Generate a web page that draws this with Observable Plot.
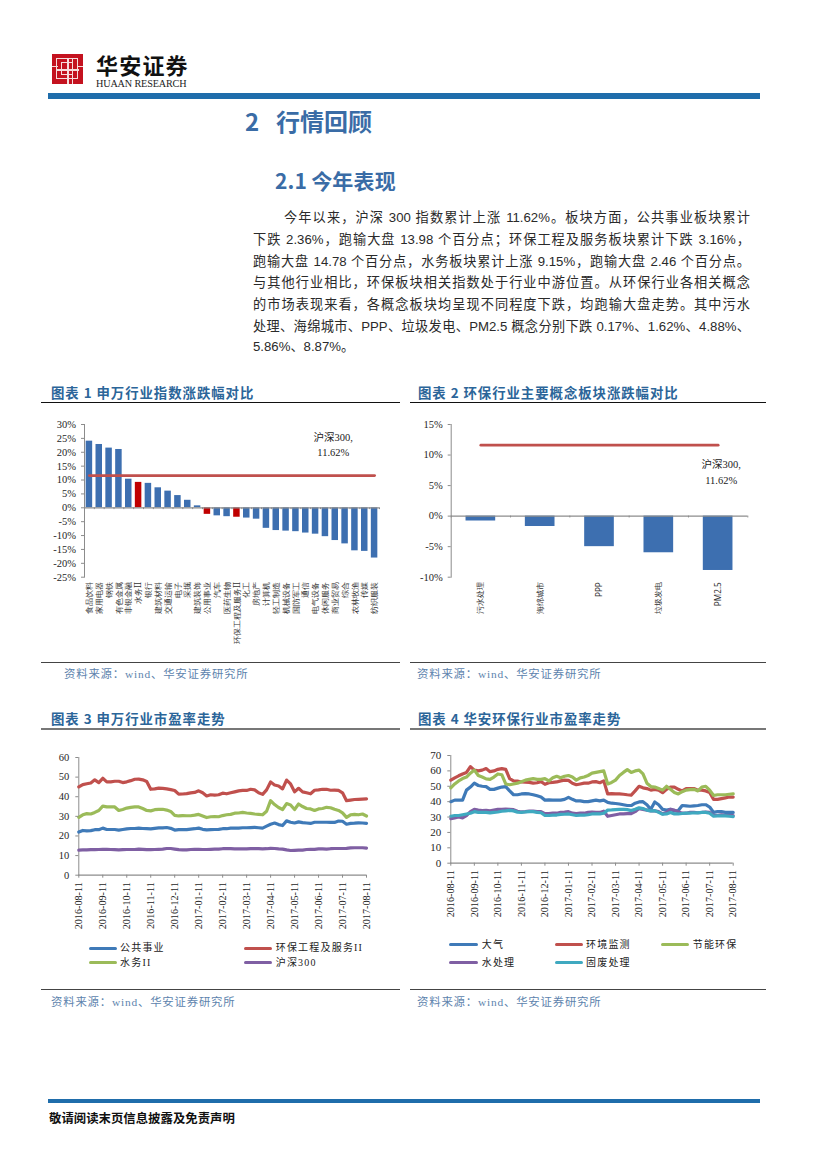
<!DOCTYPE html>
<html lang="zh">
<head>
<meta charset="utf-8">
<script src="https://cdn.jsdelivr.net/npm/d3@7"></script>
<script src="https://cdn.jsdelivr.net/npm/@observablehq/plot@0.6"></script>
<style>
html,body{margin:0;padding:0;background:#fff;}
#page{position:relative;width:827px;height:1169px;overflow:hidden;font-family:"Noto Sans CJK SC","Noto Sans",sans-serif;}
.abs{position:absolute;white-space:nowrap;}
.body-line{position:absolute;left:253px;width:497px;height:20px;line-height:20px;font-size:13.2px;color:#2a2a2a;text-align:justify;text-align-last:justify;white-space:normal;font-family:"Liberation Sans","Noto Sans CJK SC",sans-serif;}
.chart-title{position:absolute;font-size:13.4px;font-weight:700;color:#2b6599;letter-spacing:.95px;line-height:18px;white-space:nowrap;}
.source{position:absolute;font-family:"Liberation Serif","Noto Sans CJK SC",serif;font-size:11.4px;color:#5d83ad;letter-spacing:.8px;line-height:16px;white-space:nowrap;}
.rule{position:absolute;}
.lg{position:absolute;font-family:"Liberation Serif","Noto Sans CJK SC",serif;font-size:10px;letter-spacing:1.2px;color:#222;line-height:14px;white-space:nowrap;}
.sw{position:absolute;height:3.6px;border-radius:1.8px;}
.chart{position:absolute;}
.chart svg{display:block;overflow:visible;background:transparent;}
</style>
</head>
<body>
<div id="page"></div>
<script>
// ---------- Chart 1 ----------
const industries = ["食品饮料","家用电器","钢铁","有色金属","非银金融","水务II","银行","建筑材料","交通运输","电子","采掘","建筑装饰","公用事业","汽车","医药生物","环保工程及服务II","化工","房地产","计算机","轻工制造","机械设备","国防军工","通信","电气设备","休闲服务","商业贸易","综合","农林牧渔","传媒","纺织服装"];
const industryReturns = [24,22.8,21.5,21,10.3,9.15,8.8,7.2,6,4.4,2.7,0.7,-2.36,-2.9,-3.2,-3.4,-3.7,-4.1,-7.4,-8.2,-8.4,-8.6,-9.1,-9.5,-10.4,-11.8,-13,-15.5,-15.7,-18.1];
const highlighted = ["水务II","公用事业","环保工程及服务II"];
const hs300Return = 11.62;
const ticks1 = [-25,-20,-15,-10,-5,0,5,10,15,20,25,30];

// ---------- Chart 2 ----------
const concepts = ["污水处理","海绵城市","PPP","垃圾发电","PM2.5"];
const conceptReturns = [-0.8,-1.7,-5,-6,-8.9];
const ticks2 = [-10,-5,0,5,10,15];

// ---------- Charts 3 and 4: six readings per month, category date axis ----------
const monthTicks = ["2016-08-11","2016-09-11","2016-10-11","2016-11-11","2016-12-11","2017-01-11","2017-02-11","2017-03-11","2017-04-11","2017-05-11","2017-06-11","2017-07-11","2017-08-11"];

const peUtilities = [22,22.8,22.6,22.7,23.2,23.2,24, 23.3,23.3,23.3,23,23.3,23.6, 23.8,23.8,24,23.8,23.7,23.6, 23.9,24.1,24.1,24.3,23.9,23, 23.2,23.2,23.2,23.5,23.7,24, 23.4,23.1,23.2,23.3,23.4,23.7, 23.7,24,24,24,24.2,24.2, 24.3,24.4,24.2,24,25,26, 26.6,25.8,25.3,27.7,27,26.6, 27.2,26.8,26.6,26.4,27,27, 27,27,26.9,26.9,27.6,27.5, 26,26.4,26.5,26.7,26.6,26.4];
const peEnvService = [45,46.2,46.6,47,48.6,47.2,49.4, 47.6,47.6,47.9,47.9,47.2,47.6, 48.2,48.9,49,48.6,47.8,43.8, 44,44.4,44.3,44,43.6,43.2, 41.3,41.4,41.6,42,42.2,43, 42,40.4,41,40.8,41,41.8, 41.5,42,42.5,43,43.2,43.2, 43.8,43.5,42,41.2,43.5,47.5, 46,45.5,44,48.5,46.5,42.5, 44.3,42.5,42,41.5,43.3,43.5, 43.8,43.8,43.3,43.4,43.2,42, 38,38.3,38.6,38.7,38.8,38.9];
const peWater = [29.5,30.8,31.4,31.2,32,33,35.2, 34.8,34.8,34.8,33,33.5,34.2, 34.6,34.8,34.8,34,33,32.8, 33.4,33.6,33.6,33.2,32.5,30.5, 30.2,30.4,30.3,30.3,30.6,31, 30.2,29.4,29.8,29.9,29.8,30.4, 30.8,31,31.6,31.7,32,31.7, 31.5,31.2,31,30.8,32.6,38, 36,34.5,33.5,36.5,35.8,33.5, 36.3,35,34,33.8,33,33.8, 34,34.6,34.4,33.6,33,31.8, 29.5,30.8,31,30.8,31.2,30.2];
const peHs300 = [12.8,12.9,12.9,13,13,13.1,13.2, 13.2,13.1,13,12.9,13,13.1, 13.1,13.1,13.3,13.2,13,13, 13.1,13.2,13.3,13.6,13.6,13.3, 13,12.9,12.9,13.1,13.2,13.2, 13.1,13.1,13.2,13.3,13.3,13.5, 13.5,13.5,13.4,13.4,13.4,13.4, 13.5,13.5,13.5,13.4,13.5,13.7, 13.6,13.4,13.3,12.9,12.6,12.7, 12.8,12.8,13.1,13.2,13.2,13.4, 13.4,13.3,13.5,13.6,13.6,13.6, 13.7,13.9,14,14,14,13.8];

const peAir = [40,41,41,41,47.5,49.5,52, 50.5,50,49.8,48,48,48.8, 49.5,49.8,47,44.5,44.5,45, 45.2,45,44.5,43.8,43,41, 41.2,41,41,41,41.5,42.8, 41.5,40.5,40.5,40,40,40.5, 41,40.5,41,39.5,39,38.8, 38.5,38,37.5,37.5,39,39.8, 40,38,35,39.8,38,35, 34.5,35,34,34.2,37.5,37.3, 37,37.3,37.5,38,38,36.5, 33,33.5,33.5,33,33,33];
const peMonitor = [54,55.5,56.8,58,59,62.8,60.5, 60,60.5,61.5,59.5,60,61, 61.5,61,55,53.5,53.3,52.8, 52.7,52.5,52,52.3,53,51.3, 52.3,52.5,52.8,53.5,54,53.8, 52,51,51.5,52,52,52.8, 53,52.3,53.5,45,45.2,45, 45,44.8,44.5,44.3,47,50, 49,48.5,47.5,48,47.5,45.8, 48,49.5,49.5,48,47,48.5, 48.5,48.5,47.5,47.5,47,46, 41.5,41.5,42,42.5,43,43];
const peEnergy = [49,51.5,53.5,55,56,58.5,60.5, 57,56,54.8,54.5,56,58, 57.5,51.5,51,51.5,52,53, 54,54.5,55,54.5,54.5,55, 53.5,55.5,56.5,55.5,56.5,57, 56,54,55.5,56,57,58.5, 59,59.5,60,51.5,52.5,54, 57,59,60.8,59,60,60.5, 58,52,49.8,49.5,48.5,47.5, 50,48,46,45,46.5,47.5, 47.8,48,47,49.5,50,47.5, 44,44.5,44.5,44.5,44.8,45];
const peWaterTreat = [29,29.5,30,29.5,31,33.5,35, 34.5,34.2,34.3,34,34.5,35, 35,35.2,35,34.8,33.8,33.3, 33.5,33.8,33.8,33.5,33.5,32.2, 32.2,32.5,32.5,33,33.2,33.5, 32.5,32.3,32.5,32.5,33,33.3, 33,33,33.8,30.5,31,31.5, 32,32,32.2,32.2,33.5,35.5, 35,34.5,34,34,33.5,32, 33,35,34.5,33.5,32.5,32.5, 33,33,32.8,33,33.3,33, 31,31,31.5,31,31,31];
const peWaste = [30.5,31,31,31.5,32,32.5,33.5, 33,33,33,32.7,33,33.3, 33.8,34,34.3,34,33.2,33, 33.3,33.5,33.5,33,32.8,31, 31,31.2,31.3,31.7,31.8,32, 31.5,31,31.2,31.2,31.5,32, 32,32,32.5,34.5,34.6,34.8, 35,35,34.8,34.2,35,36, 35.5,34.5,34,34.2,33,31.8, 32,33,32,32,32.3,32.5, 32.5,32.8,32.7,33,33,32.5, 30.5,30.7,30.8,30.7,30.5,30.3];

const ticks3 = [0,10,20,30,40,50,60];
const ticks4 = [0,10,20,30,40,50,60,70];

// Category axis: the months of the ticks, each split into six sampling dates
const fmt = d3.utcFormat("%Y-%m-%d");
const readingDates = [];
monthTicks.forEach((m, i) => {
  if (i === monthTicks.length - 1) { readingDates.push(m); return; }
  const a = new Date(m + "T00:00Z"), b = new Date(monthTicks[i + 1] + "T00:00Z");
  d3.range(6).forEach(j => readingDates.push(fmt(new Date(+a + (b - a) * j / 6))));
});

const series3 = [
  {name:"公共事业", color:"#3f7ab8", values:peUtilities},
  {name:"环保工程及服务II", color:"#c0504d", values:peEnvService},
  {name:"水务II", color:"#9bbb59", values:peWater},
  {name:"沪深300", color:"#7f5fa3", values:peHs300}
];
const series4 = [
  {name:"大气", color:"#3f7ab8", values:peAir},
  {name:"环境监测", color:"#c0504d", values:peMonitor},
  {name:"节能环保", color:"#9bbb59", values:peEnergy},
  {name:"水处理", color:"#7f5fa3", values:peWaterTreat},
  {name:"固废处理", color:"#3fa9c0", values:peWaste}
];

const AXIS = "#8c8c8c", TICKTEXT = "#262626";
const SERIF = '"Liberation Serif","Noto Sans CJK SC",serif';
const page = document.getElementById("page");

function el(cls, style, text) {
  const d = document.createElement("div");
  d.className = cls;
  Object.assign(d.style, style);
  if (text != null) d.textContent = text;
  page.appendChild(d);
  return d;
}
function place(svg, left, top) {
  const w = el("chart", {left: left + "px", top: top + "px"});
  w.appendChild(svg);
}

// ---------- Page furniture ----------
el("abs", {left:"52px",top:"54px",width:"31px",height:"30px",background:"#c4121f"});
[[56,58,23,22],[61,62,13,14]].forEach(([x,y,w,h]) => el("abs",{left:x+"px",top:y+"px",width:w-3+"px",height:h-3+"px",border:"1.5px solid #f6dcdc"}));
[[67,58,1.5,26],[56,69,23,1.5],[52,66,6,1.2],[77,66,6,1.2],[72,58,1.2,26]].forEach(([x,y,w,h]) => el("abs",{left:x+"px",top:y+"px",width:w+"px",height:h+"px",background:"#f6dcdc"}));
el("abs",{left:"96px",top:"49px",fontSize:"22px",lineHeight:"30px",letterSpacing:"1.2px",color:"#111",fontWeight:"700"},"华安证券");
el("abs",{left:"96px",top:"78px",fontSize:"10.2px",lineHeight:"12px",letterSpacing:"-.15px",color:"#222",fontFamily:SERIF},"HUAAN RESEARCH");
el("rule",{left:"48px",top:"93px",width:"712px",height:"6.4px",background:"#1f6dab"});

el("abs",{left:"245px",top:"103px",fontSize:"24px",lineHeight:"36px",fontWeight:"700",color:"#3a6ca6",letterSpacing:"0"},"2");
el("abs",{left:"276px",top:"103px",fontSize:"24px",lineHeight:"36px",fontWeight:"700",color:"#3a6ca6"},"行情回顾");
el("abs",{left:"275px",top:"165px",fontSize:"21px",lineHeight:"30px",fontWeight:"700",color:"#3a6ca6",letterSpacing:".2px",wordSpacing:"-1px"},"2.1 今年表现");

const bodyLines = [
  ["今年以来，沪深 300 指数累计上涨 11.62%。板块方面，公共事业板块累计",284,218.3],
  ["下跌 2.36%，跑输大盘 13.98 个百分点；环保工程及服务板块累计下跌 3.16%，",253,240],
  ["跑输大盘 14.78 个百分点，水务板块累计上涨 9.15%，跑输大盘 2.46 个百分点。",253,261.7],
  ["与其他行业相比，环保板块相关指数处于行业中游位置。从环保行业各相关概念",253,283.3],
  ["的市场表现来看，各概念板块均呈现不同程度下跌，均跑输大盘走势。其中污水",253,305],
  ["处理、海绵城市、PPP、垃圾发电、PM2.5 概念分别下跌 0.17%、1.62%、4.88%、",253,326.7]
];
bodyLines.forEach(([t,x,y]) => el("body-line",{left:x+"px",width:750-x+"px",top:y-10+"px"},t));
el("body-line",{top:"337px",width:"110px",textAlignLast:"left"},"5.86%、8.87%。");

el("chart-title",{left:"51px",top:"383px"},"图表 1 申万行业指数涨跌幅对比");
el("chart-title",{left:"418px",top:"383px"},"图表 2 环保行业主要概念板块涨跌幅对比");
el("chart-title",{left:"51px",top:"709px"},"图表 3 申万行业市盈率走势");
el("chart-title",{left:"418px",top:"709px"},"图表 4 华安环保行业市盈率走势");
[[41,402,359,1.3,"#111"],[410,402,356,1.3,"#111"],[41,662.3,359,1.2,"#444"],[410,662.3,356,1.2,"#444"],
 [41,728,359,1.8,"#777"],[410,728,356,1.8,"#777"],[41,989,359,1.2,"#444"],[410,989,356,1.2,"#444"]]
 .forEach(([x,y,w,h,c]) => el("rule",{left:x+"px",top:y+"px",width:w+"px",height:h+"px",background:c}));
const SRC = "资料来源：wind、华安证券研究所";
el("source",{left:"64px",top:"666px"},SRC);
el("source",{left:"417px",top:"666px"},SRC);
el("source",{left:"51px",top:"993.5px"},SRC);
el("source",{left:"417px",top:"993.5px"},SRC);

el("rule",{left:"48px",top:"1098.7px",width:"712px",height:"4px",background:"#1f6dab"});
el("abs",{left:"49px",top:"1109px",fontSize:"12.4px",lineHeight:"18px",fontWeight:"700",color:"#111"},"敬请阅读末页信息披露及免责声明");

// ---------- Charts ----------
function barChart({cats, vals, reds, domain, ticks, width, height, mL, mR, mT, mB, paddingInner, note, noteCat, labelSize, dxNote}) {
  const rows = cats.map((c,i)=>({c, v:vals[i], red:reds.includes(c)}));
  const step = (width - mL - mR) / cats.length;
  return Plot.plot({
    width, height, marginLeft:mL, marginRight:mR, marginTop:mT, marginBottom:mB,
    style:{background:"transparent"},
    x:{type:"band", domain:cats, paddingInner, paddingOuter:paddingInner/2, round:false, axis:null},
    y:{domain, axis:null},
    marks:[
      Plot.barY(rows,{x:"c",y:"v",fill:d=>d.red?"#c00000":"#3d6fb0"}),
      Plot.frame({anchor:"left",stroke:AXIS}),
      Plot.ruleY([0],{stroke:AXIS,strokeWidth:1.2}),
      Plot.ruleX(cats,{x:d=>d,dx:step/2,y1:0,y2:(domain[0]-domain[1])*0.012,stroke:AXIS}),
      Plot.ruleX(cats.slice(0,1),{x:d=>d,dx:-step/2,y1:0,y2:(domain[0]-domain[1])*0.012,stroke:AXIS}),
      Plot.line(cats,{x:d=>d,y:()=>hs300Return,stroke:"#c0504d",strokeWidth:2.8}),
      Plot.axisY(ticks,{anchor:"left",tickSize:3,tickPadding:5.5,tickFormat:d=>d+"%",fontSize:10.5,fontFamily:SERIF,stroke:AXIS,fill:TICKTEXT,color:TICKTEXT,label:null}),
      Plot.axisX(cats,{anchor:"bottom",tickSize:0,tickPadding:5,tickRotate:-90,fontSize:labelSize,fill:"#333",label:null}),
      Plot.text(note,{x:()=>noteCat,y:"y",text:"t",dx:dxNote,fontFamily:SERIF,fontSize:10.5,fill:"#222"})
    ]
  });
}
place(barChart({cats:industries,vals:industryReturns,reds:highlighted,domain:[-25,30],ticks:ticks1,
  width:345,height:250,mL:44,mR:6,mT:9,mB:88.3,paddingInner:.34,labelSize:8.2,
  note:[{y:25.3,t:"沪深300,"},{y:19.8,t:"11.62%"}],noteCat:"商业贸易",dxNote:-2}),40,415);
place(barChart({cats:concepts,vals:conceptReturns,reds:[],domain:[-10,15],ticks:ticks2,
  width:345,height:250,mL:45.7,mR:2.7,mT:9,mB:88.3,paddingInner:.5,labelSize:8.2,
  note:[{y:8.35,t:"沪深300,"},{y:5.85,t:"11.62%"}],noteCat:"PM2.5",dxNote:3}),405,415);

function peChart({series, ticks, domain, left, top, width, height, mL, mR, mT, mB, ySize}) {
  const rows = series.flatMap(s => s.values.map((v,i)=>({name:s.name,color:s.color,date:readingDates[i],v})));
  const svg = Plot.plot({
    width, height, marginLeft:mL, marginRight:mR, marginTop:mT, marginBottom:mB,
    style:{background:"transparent"},
    x:{type:"point", domain:readingDates, padding:0, round:false, axis:null},
    y:{domain, axis:null},
    marks:[
      Plot.frame({anchor:"left",stroke:AXIS}),
      Plot.ruleY([0],{stroke:AXIS,strokeWidth:1.2}),
      ...series.map(s => Plot.line(rows.filter(r=>r.name===s.name),{x:"date",y:"v",stroke:s.color,strokeWidth:3.2,strokeLinejoin:"round"})),
      Plot.axisY(ticks,{anchor:"left",tickSize:3,tickPadding:6.5,fontSize:ySize,fontFamily:SERIF,stroke:AXIS,fill:TICKTEXT,color:TICKTEXT,label:null}),
      Plot.axisX(monthTicks,{anchor:"bottom",tickSize:3,tickPadding:4,tickRotate:-90,fontSize:10.2,fontFamily:SERIF,stroke:AXIS,fill:TICKTEXT,color:TICKTEXT,label:null})
    ]
  });
  place(svg,left,top);
}
peChart({series:series3,ticks:ticks3,domain:[0,60],left:40,top:745,width:335,height:200,mL:38.3,mR:9,mT:12,mB:70.3,ySize:10.5});
peChart({series:series4,ticks:ticks4,domain:[0,70],left:405,top:745,width:335,height:200,mL:45.3,mR:7.3,mT:10,mB:82.3,ySize:11});

function legend(items){
  items.forEach(({name,color,sx,tx,y}) => {
    el("sw",{left:sx+"px",top:y-1.8+"px",width:"28.4px",background:color});
    el("lg",{left:tx+"px",top:y-7+"px"},name);
  });
}
legend([
  {...series3[0],sx:89,tx:120,y:948.3},{...series3[1],sx:244,tx:275.7,y:948.3},
  {...series3[2],sx:89,tx:120,y:962.7},{...series3[3],sx:244,tx:275.7,y:962.7},
  {...series4[0],sx:449.3,tx:481.7,y:944.7},{...series4[1],sx:555,tx:586,y:944.7},{...series4[2],sx:660.7,tx:692.7,y:944.7},
  {...series4[3],sx:449.3,tx:481.7,y:962.7},{...series4[4],sx:555,tx:586,y:962.7}
]);
</script>
</body>
</html>
